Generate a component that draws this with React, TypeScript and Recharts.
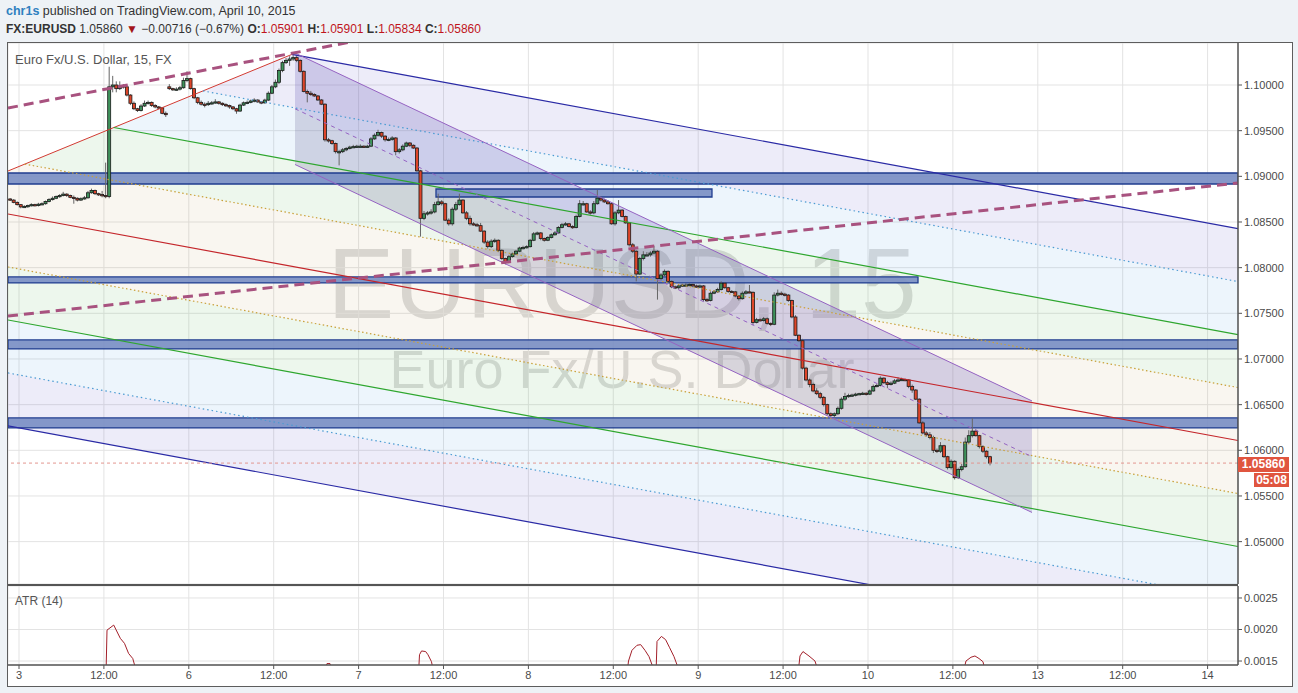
import React from 'react';
import {
  ComposedChart,
  Bar,
  Area,
  Line,
  XAxis,
  YAxis,
  CartesianGrid,
  ReferenceLine,
  ReferenceArea,
} from 'recharts';

// ---------- axes ----------
const X_TICKS = [0, 12, 24, 36, 48, 60, 72, 84, 96, 108, 120, 132, 144, 156, 168];
const X_LABELS = ['3', '12:00', '6', '12:00', '7', '12:00', '8', '12:00', '9', '12:00', '10', '12:00', '13', '12:00', '14'];
const X_DOMAIN = [-1.555, 172.3];
const PRICE_TICKS = [1.05, 1.055, 1.06, 1.065, 1.07, 1.075, 1.08, 1.085, 1.09, 1.095, 1.1];
const PRICE_DOMAIN = [1.04536, 1.1046];
const ATR_TICKS = [0.0015, 0.002, 0.0025];
const ATR_DOMAIN = [0.001437, 0.00269];

// ---------- 30-minute candles (values in 1e-5 above 1.00000) ----------
const FIRST_BAR_T = -1.25;
const BAR_HOURS = 0.5;
const OPEN = [
  8752, 8740, 8715, 8690, 8665, 8670, 8680, 8690, 8680, 8695,
  8700, 8725, 8745, 8760, 8780, 8790, 8805, 8790, 8770, 8760,
  8740, 8755, 8765, 8820, 8845, 8810, 8800, 8790, 8780, 9980,
  10000, 9960, 9990, 9980, 9890, 9800, 9740, 9720, 9770, 9800,
  9810, 9775, 9760, 9750, 9690, 9980, 9960, 9950, 9955, 9970,
  10050, 10070, 9960, 9860, 9810, 9790, 9785, 9800, 9805, 9815,
  9800, 9785, 9775, 9760, 9740, 9715, 9780, 9805, 9810, 9825,
  9835, 9815, 9805, 9835, 9910, 9980, 10030, 10160, 10245, 10270,
  10285, 10300, 10270, 10150, 9930, 9910, 9895, 9880, 9836, 9790,
  9400, 9390, 9360, 9270, 9270, 9290, 9305, 9320, 9325, 9330,
  9330, 9325, 9330, 9410, 9450, 9480, 9440, 9400, 9405, 9420,
  9270, 9290, 9330, 9365, 9340, 9310, 9060, 8540, 8590, 8600,
  8610, 8690, 8720, 8700, 8520, 8480, 8640, 8690, 8740, 8600,
  8540, 8480, 8470, 8460, 8400, 8280, 8230, 8290, 8300, 8190,
  8100, 8060, 8120, 8150, 8180, 8215, 8220, 8230, 8300, 8370,
  8380, 8320, 8300, 8330, 8360, 8380, 8440, 8470, 8480, 8450,
  8440, 8560, 8700, 8700, 8610, 8600, 8700, 8760, 8740, 8720,
  8700, 8480, 8600, 8630, 8560, 8490, 8250, 8180, 7930, 8100,
  8140, 8140, 8160, 8180, 7880, 7920, 7960, 7850, 7790, 7780,
  7800, 7810, 7810, 7815, 7800, 7790, 7800, 7650, 7640, 7720,
  7735, 7760, 7830, 7780, 7740, 7735, 7690, 7660, 7720, 7735,
  7730, 7400, 7430, 7420, 7440, 7390, 7380, 7700, 7720, 7710,
  7700, 7640, 7460, 7260, 7200, 6900, 6770, 6720, 6650, 6620,
  6580, 6500, 6400, 6380, 6400, 6460, 6560, 6590, 6600, 6605,
  6615, 6620, 6625, 6615, 6650, 6700, 6710, 6790, 6740, 6720,
  6735, 6760, 6770, 6775, 6770, 6700, 6660, 6560, 6300, 6190,
  6170, 6140, 6000, 5990, 6050, 5930, 5810, 5880, 5700, 5790,
  5820, 6090, 6160, 6210, 6160, 6040, 5990, 5930,
];
const HIGH = [
  8762, 8750, 8725, 8695, 8685, 8690, 8705, 8700, 8710, 8715,
  8735, 8760, 8780, 8790, 8805, 8830, 8815, 8800, 8790, 8770,
  8770, 8785, 8840, 8865, 8855, 8820, 8840, 9150, 10200, 10100,
  10040, 10040, 10010, 9990, 9900, 9820, 9750, 9790, 9830, 9830,
  9820, 9790, 9770, 9760, 9710, 10010, 9970, 9975, 9990, 10080,
  10150, 10080, 9970, 9870, 9830, 9810, 9825, 9825, 9845, 9825,
  9810, 9800, 9785, 9770, 9750, 9795, 9820, 9830, 9840, 9855,
  9845, 9825, 9850, 9930, 10000, 10060, 10180, 10265, 10295, 10315,
  10350, 10330, 10280, 10160, 9950, 9935, 9910, 9890, 9846, 9800,
  9420, 9400, 9370, 9290, 9310, 9320, 9335, 9345, 9345, 9350,
  9340, 9345, 9430, 9470, 9510, 9490, 9450, 9425, 9440, 9430,
  9310, 9350, 9380, 9375, 9350, 9320, 9070, 8620, 8620, 8640,
  8720, 8810, 8740, 8710, 8540, 8660, 8720, 8810, 8750, 8620,
  8570, 8500, 8490, 8490, 8410, 8300, 8310, 8320, 8310, 8200,
  8110, 8140, 8165, 8195, 8230, 8240, 8245, 8315, 8390, 8395,
  8390, 8330, 8345, 8375, 8400, 8455, 8490, 8500, 8490, 8465,
  8580, 8740, 8730, 8710, 8630, 8730, 8850, 8780, 8755, 8740,
  8710, 8620, 8740, 8640, 8570, 8500, 8270, 8190, 8120, 8180,
  8170, 8180, 8240, 8190, 7940, 7980, 7970, 7860, 7805, 7820,
  7825, 7830, 7835, 7825, 7815, 7815, 7810, 7670, 7740, 7755,
  7780, 7850, 7840, 7790, 7755, 7745, 7700, 7740, 7755, 7810,
  7740, 7450, 7450, 7460, 7455, 7400, 7730, 7760, 7740, 7725,
  7710, 7650, 7480, 7270, 7220, 6915, 6785, 6740, 6680, 6640,
  6595, 6510, 6415, 6415, 6480, 6580, 6630, 6620, 6620, 6630,
  6630, 6640, 6635, 6665, 6720, 6730, 6810, 6800, 6760, 6755,
  6780, 6800, 6795, 6785, 6780, 6720, 6670, 6570, 6320, 6210,
  6200, 6160, 6020, 6090, 6060, 5940, 5900, 5890, 5810, 5850,
  6140, 6220, 6350, 6230, 6170, 6055, 6000, 5940,
];
const LOW = [
  8730, 8705, 8680, 8650, 8655, 8655, 8670, 8670, 8670, 8685,
  8690, 8715, 8735, 8750, 8765, 8780, 8775, 8760, 8700, 8725,
  8730, 8745, 8755, 8810, 8795, 8785, 8770, 8760, 8760, 9920,
  9920, 9945, 9960, 9875, 9780, 9725, 9705, 9710, 9760, 9785,
  9760, 9745, 9735, 9680, 9650, 9945, 9935, 9940, 9940, 9960,
  10030, 9950, 9845, 9790, 9775, 9755, 9770, 9785, 9795, 9785,
  9770, 9760, 9740, 9725, 9685, 9705, 9770, 9790, 9800, 9810,
  9805, 9790, 9795, 9825, 9900, 9965, 10010, 10140, 10230, 10210,
  10265, 10250, 10135, 9920, 9810, 9880, 9870, 9826, 9780, 9380,
  9370, 9345, 9250, 9120, 9255, 9275, 9295, 9310, 9310, 9320,
  9315, 9315, 9320, 9400, 9435, 9420, 9380, 9385, 9390, 9230,
  9250, 9275, 9320, 9320, 9300, 9050, 8340, 8520, 8570, 8580,
  8595, 8680, 8680, 8510, 8460, 8460, 8620, 8680, 8590, 8520,
  8460, 8460, 8450, 8390, 8260, 8210, 8215, 8270, 8170, 8085,
  8035, 8050, 8110, 8140, 8170, 8200, 8210, 8220, 8290, 8355,
  8300, 8285, 8290, 8320, 8350, 8370, 8430, 8460, 8440, 8425,
  8430, 8550, 8680, 8600, 8580, 8585, 8690, 8725, 8710, 8690,
  8470, 8460, 8585, 8550, 8480, 8230, 8160, 7850, 7920, 8080,
  8125, 8120, 8145, 7650, 7860, 7900, 7835, 7775, 7765, 7760,
  7790, 7800, 7800, 7785, 7780, 7775, 7630, 7625, 7630, 7710,
  7725, 7750, 7770, 7725, 7725, 7675, 7640, 7650, 7705, 7720,
  7370, 7390, 7410, 7410, 7375, 7360, 7370, 7685, 7695, 7685,
  7625, 7445, 7250, 7185, 6885, 6755, 6690, 6635, 6605, 6560,
  6480, 6385, 6360, 6365, 6385, 6445, 6540, 6575, 6585, 6590,
  6605, 6610, 6600, 6605, 6640, 6690, 6700, 6725, 6680, 6710,
  6725, 6750, 6760, 6755, 6680, 6630, 6550, 6290, 6175, 6150,
  6120, 5970, 5970, 5970, 5915, 5790, 5790, 5680, 5685, 5770,
  5810, 6070, 6140, 6150, 6020, 5970, 5910, 5835,
];
const CLOSE = [
  8740, 8715, 8690, 8665, 8670, 8680, 8690, 8680, 8695, 8700,
  8725, 8745, 8760, 8780, 8790, 8805, 8790, 8770, 8760, 8740,
  8755, 8765, 8820, 8845, 8810, 8800, 8790, 8780, 9980, 10000,
  9960, 9990, 9980, 9890, 9800, 9740, 9720, 9770, 9800, 9810,
  9775, 9760, 9750, 9690, 9675, 9960, 9950, 9955, 9970, 10050,
  10070, 9960, 9860, 9810, 9790, 9785, 9800, 9805, 9815, 9800,
  9785, 9775, 9760, 9740, 9715, 9780, 9805, 9810, 9825, 9835,
  9815, 9805, 9835, 9910, 9980, 10030, 10160, 10245, 10270, 10285,
  10300, 10270, 10150, 9930, 9910, 9895, 9880, 9836, 9790, 9400,
  9390, 9360, 9270, 9270, 9290, 9305, 9320, 9325, 9330, 9330,
  9325, 9330, 9410, 9450, 9480, 9440, 9400, 9405, 9420, 9270,
  9290, 9330, 9365, 9340, 9310, 9060, 8540, 8590, 8600, 8610,
  8690, 8720, 8700, 8520, 8480, 8640, 8690, 8740, 8600, 8540,
  8480, 8470, 8460, 8400, 8280, 8230, 8290, 8300, 8190, 8100,
  8060, 8120, 8150, 8180, 8215, 8220, 8230, 8300, 8370, 8380,
  8320, 8300, 8330, 8360, 8380, 8440, 8470, 8480, 8450, 8440,
  8560, 8700, 8700, 8610, 8600, 8700, 8760, 8740, 8720, 8700,
  8480, 8600, 8630, 8560, 8490, 8250, 8180, 7930, 8100, 8140,
  8140, 8160, 8180, 7880, 7920, 7960, 7850, 7790, 7780, 7800,
  7810, 7810, 7815, 7800, 7790, 7800, 7650, 7640, 7720, 7735,
  7760, 7830, 7780, 7740, 7735, 7690, 7660, 7720, 7735, 7730,
  7400, 7430, 7420, 7440, 7390, 7380, 7700, 7720, 7710, 7700,
  7640, 7460, 7260, 7200, 6900, 6770, 6720, 6650, 6620, 6580,
  6500, 6400, 6380, 6400, 6460, 6560, 6590, 6600, 6605, 6615,
  6620, 6625, 6615, 6650, 6700, 6710, 6790, 6740, 6720, 6735,
  6760, 6770, 6775, 6770, 6700, 6660, 6560, 6300, 6190, 6170,
  6140, 6000, 5990, 6050, 5930, 5810, 5880, 5700, 5790, 5820,
  6090, 6160, 6210, 6160, 6040, 5990, 5930, 5860,
];
const LAST_PRICE = 1.0586;

// ---------- ATR(14) visible key points ----------
const ATR_T = [-1.5, 11.45, 12.3, 12.44, 13.39, 14.32, 14.91, 15.49, 16.08, 16.68, 43.25, 43.53, 43.96, 44.24, 56.47, 56.61, 56.9, 57.48, 57.81, 58.3, 58.66, 85.94, 86.15, 86.64, 87.35, 87.87, 88.48, 89.05, 89.61, 90.04, 90.18, 90.8, 91.39, 91.97, 92.58, 93.14, 93.43, 110.11, 110.39, 110.81, 111.66, 112.51, 113.07, 133.43, 133.85, 134.56, 135.12, 135.69, 136.25, 136.68, 137.25];
const ATR_V = [0.0012, 0.0012, 0.0013, 0.00199, 0.00207, 0.00186, 0.00178, 0.00162, 0.00154, 0.0013, 0.0013, 0.00146, 0.00146, 0.0013, 0.0013, 0.0016, 0.00166, 0.00165, 0.0016, 0.00149, 0.0013, 0.0013, 0.0015, 0.00167, 0.00175, 0.00176, 0.00167, 0.00157, 0.0014, 0.0013, 0.00181, 0.00189, 0.00184, 0.00171, 0.00157, 0.0014, 0.0013, 0.0013, 0.00158, 0.00165, 0.00158, 0.0015, 0.0013, 0.0013, 0.0015, 0.00156, 0.00158, 0.00154, 0.00149, 0.0013, 0.0013];

// ---------- drawings (time in hours, price) ----------
// pitchfork bands: [t, lower, upper]
const BAND_LAV_UP = [[26.007, 1.099351, 1.099351], [38.59, 1.097556, 1.103359], [172.3, 1.078478, 1.084281]];
const BAND_BLUE_UP = [[13.4, 1.095348, 1.095348], [26.007, 1.093549, 1.099351], [172.3, 1.072676, 1.078478]];
const BAND_GREEN_UP = [[0.82, 1.091341, 1.091341], [13.4, 1.089546, 1.095348], [172.3, 1.066874, 1.072676]];
const BAND_BEIGE_UP = [[-1.555, 1.085877, 1.090585], [0.82, 1.085538, 1.091341], [172.3, 1.061071, 1.066874]];
const BAND_BEIGE_LO = [[-1.555, 1.080075, 1.085877], [172.3, 1.055269, 1.061071]];
const BAND_GREEN_LO = [[-1.555, 1.074272, 1.080075], [172.3, 1.049466, 1.055269]];
const BAND_BLUE_LO = [[-1.555, 1.06847, 1.074272], [172.3, 1.043664, 1.049466]];
const BAND_LAV_LO = [[-1.555, 1.062667, 1.06847], [172.3, 1.037861, 1.043664]];

// pitchfork lines: [t1, p1, t2, p2]
const PF_BLUE_UP = [38.59, 1.103359, 172.3, 1.084281];
const PF_LTBLUE_UP = [26.007, 1.099351, 172.3, 1.078478];
const PF_GREEN_UP = [13.4, 1.095348, 172.3, 1.072676];
const PF_YEL_UP = [0.82, 1.091341, 172.3, 1.066874];
const PF_MEDIAN = [-1.555, 1.085877, 172.3, 1.061071];
const PF_YEL_LO = [-1.555, 1.080075, 172.3, 1.055269];
const PF_GREEN_LO = [-1.555, 1.074272, 172.3, 1.049466];
const PF_LTBLUE_LO = [-1.555, 1.06847, 172.3, 1.043664];
const PF_BLUE_LO = [-1.555, 1.062667, 172.3, 1.037861];
const PF_HANDLE = [-1.555, 1.090585, 38.59, 1.103359];

// regression channel
const CH_UPPER = [39.01, 1.103503, 143.18, 1.065404];
const CH_MID = [39.01, 1.0974, 143.18, 1.0593];
const CH_LOWER = [39.01, 1.091296, 143.18, 1.053197];

// trend lines (dashed)
const TREND_UP = [-1.555, 1.097482, 50, 1.10518];
const TREND_LO = [-1.555, 1.07471, 172.3, 1.089271];

// support / resistance zones: [t1, t2, pLow, pHigh]
const ZONES = [
  [-1.555, 172.3, 1.089161, 1.090366],
  [58.94, 97.95, 1.087738, 1.088614],
  [-1.555, 127.07, 1.078323, 1.07898],
  [-1.555, 172.3, 1.071097, 1.072083],
  [-1.555, 172.3, 1.062449, 1.063543],
];

// ---------- derived tables ----------
const candles = CLOSE.map((c, i) => {
  const o = 1 + OPEN[i] / 1e5;
  const h = 1 + HIGH[i] / 1e5;
  const l = 1 + LOW[i] / 1e5;
  const cl = 1 + c / 1e5;
  return { t: FIRST_BAR_T + i * BAR_HOURS, o, h, l, c: cl, range: [l, h] };
});
const atrData = ATR_T.map((t, i) => ({ t, v: ATR_V[i] }));
const toBand = (pts: number[][]) => pts.map(([t, lo, hi]) => ({ t, band: [lo, hi] }));
const seg = (s: number[]) => [
  { x: s[0], y: s[1] },
  { x: s[2], y: s[3] },
];

const FONT = '"Liberation Sans", Arial, sans-serif';
const AXIS_TEXT = { fontSize: 11, fill: '#4a4a4a', fontFamily: FONT };

function renderCandle(props: any) {
  const { x, y, width, height, payload } = props;
  if (!payload || x == null) return <g />;
  const { o, h, l, c } = payload;
  const cx = x + width / 2;
  const top = Math.min(y, y + height);
  const hgt = Math.abs(height);
  const k = h > l ? hgt / (h - l) : 0;
  const yO = top + (h - o) * k;
  const yC = top + (h - c) * k;
  const bodyTop = Math.min(yO, yC);
  const bodyH = Math.max(1.2, Math.abs(yO - yC));
  const up = c >= o;
  return (
    <g>
      <line x1={cx} x2={cx} y1={top} y2={top + hgt} stroke="#666" strokeWidth={1} />
      <rect
        x={cx - 1.5}
        y={bodyTop}
        width={3}
        height={bodyH}
        fill={up ? '#3f925b' : '#de4529'}
        stroke="#1a1a1a"
        strokeWidth={0.8}
      />
    </g>
  );
}

const bandArea = (pts: number[][], fill: string, opacity: number, key: string) => (
  <Area
    key={key}
    data={toBand(pts)}
    dataKey="band"
    type="linear"
    stroke="none"
    fill={fill}
    fillOpacity={opacity}
    isAnimationActive={false}
    dot={false}
    activeDot={false}
  />
);

const line = (s: number[], stroke: string, width: number, dash: string | undefined, key: string) => (
  <ReferenceLine
    key={key}
    segment={seg(s)}
    stroke={stroke}
    strokeWidth={width}
    strokeDasharray={dash}
    ifOverflow="hidden"
  />
);

const RED = { color: '#c0151c' };

export default function App() {
  return (
    <div
      style={{
        position: 'absolute',
        left: 0,
        top: 0,
        width: 1298,
        height: 693,
        background: '#eef2f6',
        fontFamily: FONT,
        overflow: 'hidden',
      }}
    >
      {/* header */}
      <div style={{ position: 'absolute', left: 6, top: 4, fontSize: 12.5, color: '#333', whiteSpace: 'nowrap' }}>
        <span style={{ color: '#2f80c0', fontWeight: 600 }}>chr1s</span> published on TradingView.com, April 10, 2015
      </div>
      <div style={{ position: 'absolute', left: 6, top: 22, fontSize: 12, color: '#333', whiteSpace: 'nowrap' }}>
        <b>FX:EURUSD</b> 1.05860 <span style={{ color: '#a3141b' }}>▼</span> −0.00716 (−0.67%){' '}
        <b>O:</b><span style={RED}>1.05901</span> <b>H:</b><span style={RED}>1.05901</span> <b>L:</b>
        <span style={RED}>1.05834</span> <b>C:</b><span style={RED}>1.05860</span>
      </div>

      {/* frame */}
      <div
        style={{
          position: 'absolute',
          left: 7,
          top: 42,
          width: 1286,
          height: 645,
          border: '1px solid #5d5d5d',
          boxSizing: 'border-box',
          background: '#ffffff',
        }}
      />

      {/* watermark (behind translucent drawings) */}
      <svg style={{ position: 'absolute', left: 0, top: 0 }} width={1298} height={693}>
        <text x={622} y={318} textAnchor="middle" fontSize={100} fontFamily={FONT} fill="#dcdcdc">
          EURUSD, 15
        </text>
        <text x={622} y={388} textAnchor="middle" fontSize={54} fontFamily={FONT} fill="#dcdcdc">
          Euro Fx/U.S. Dollar
        </text>
      </svg>

      {/* main price panel */}
      <div style={{ position: 'absolute', left: 8, top: 43 }}>
        <ComposedChart width={1283} height={541} data={candles} margin={{ top: 0, right: 0, bottom: 0, left: 0 }}>
          <CartesianGrid stroke="#e3e3e3" strokeWidth={1} />
          <XAxis
            type="number"
            dataKey="t"
            domain={X_DOMAIN}
            ticks={X_TICKS}
            allowDataOverflow
            hide
          />
          <YAxis
            orientation="right"
            type="number"
            domain={PRICE_DOMAIN}
            ticks={PRICE_TICKS}
            allowDataOverflow
            width={53}
            interval={0}
            tickFormatter={(v: number) => v.toFixed(5)}
            tick={AXIS_TEXT}
            tickSize={4}
            tickMargin={2}
            axisLine={{ stroke: '#555', strokeWidth: 1.5 }}
            tickLine={{ stroke: '#555' }}
          />

          {bandArea(BAND_LAV_UP, '#5a50c8', 0.11, 'b1')}
          {bandArea(BAND_BLUE_UP, '#3c8cdc', 0.09, 'b2')}
          {bandArea(BAND_GREEN_UP, '#50b450', 0.1, 'b3')}
          {bandArea(BAND_BEIGE_UP, '#b48c3c', 0.08, 'b4')}
          {bandArea(BAND_BEIGE_LO, '#b48c3c', 0.08, 'b5')}
          {bandArea(BAND_GREEN_LO, '#50b450', 0.1, 'b6')}
          {bandArea(BAND_BLUE_LO, '#3c8cdc', 0.09, 'b7')}
          {bandArea(BAND_LAV_LO, '#5a50c8', 0.11, 'b8')}

          {bandArea([[CH_MID[0], CH_MID[1], CH_UPPER[1]], [CH_MID[2], CH_MID[3], CH_UPPER[3]]], '#6a5cb8', 0.25, 'c1')}
          {bandArea([[CH_LOWER[0], CH_LOWER[1], CH_MID[1]], [CH_LOWER[2], CH_LOWER[3], CH_MID[3]]], '#6b6a9a', 0.24, 'c2')}

          {line(PF_HANDLE, '#d23a32', 1, undefined, 'l0')}
          {line(PF_BLUE_UP, '#2a2aa5', 1.2, undefined, 'l1')}
          {line(PF_LTBLUE_UP, '#4b9bd2', 1.2, '1.5 3', 'l2')}
          {line(PF_GREEN_UP, '#2ea62e', 1.2, undefined, 'l3')}
          {line(PF_YEL_UP, '#c9a13a', 1.2, '1.5 2.5', 'l4')}
          {line(PF_MEDIAN, '#c4262b', 1.2, undefined, 'l5')}
          {line(PF_YEL_LO, '#c9a13a', 1.2, '1.5 2.5', 'l6')}
          {line(PF_GREEN_LO, '#2ea62e', 1.2, undefined, 'l7')}
          {line(PF_LTBLUE_LO, '#4b9bd2', 1.2, '1.5 3', 'l8')}
          {line(PF_BLUE_LO, '#2a2aa5', 1.2, undefined, 'l9')}
          {line(CH_UPPER, '#9563c2', 1, undefined, 'r1')}
          {line(CH_MID, '#9563c2', 1, '4 4', 'r2')}
          {line(CH_LOWER, '#9563c2', 1, undefined, 'r3')}
          {line(TREND_UP, '#a8527f', 3, '10 6', 't1')}
          {line(TREND_LO, '#a8527f', 3, '10 6', 't2')}

          {ZONES.map((z, i) => (
            <ReferenceArea
              key={'z' + i}
              x1={z[0]}
              x2={z[1]}
              y1={z[2]}
              y2={z[3]}
              fill="#7b8fc4"
              fillOpacity={0.92}
              stroke="#1f3d8f"
              strokeWidth={1.3}
              ifOverflow="hidden"
            />
          ))}

          <ReferenceLine y={LAST_PRICE} stroke="#e3968f" strokeDasharray="3 3" strokeWidth={1} />

          <Bar dataKey="range" barSize={3} shape={renderCandle} isAnimationActive={false} />
        </ComposedChart>
      </div>

      {/* panel separator */}
      <div style={{ position: 'absolute', left: 8, top: 584, width: 1230, height: 2, background: '#555' }} />

      {/* ATR panel */}
      <div style={{ position: 'absolute', left: 8, top: 586 }}>
        <ComposedChart width={1283} height={100} data={atrData} margin={{ top: 0, right: 0, bottom: 0, left: 0 }}>
          <CartesianGrid stroke="#e3e3e3" strokeWidth={1} />
          <XAxis
            type="number"
            dataKey="t"
            domain={X_DOMAIN}
            ticks={X_TICKS}
            allowDataOverflow
            interval={0}
            height={21}
            tickFormatter={(v: number) => X_LABELS[X_TICKS.indexOf(v)]}
            tick={AXIS_TEXT}
            tickSize={4}
            tickMargin={2}
            axisLine={{ stroke: '#555', strokeWidth: 1.5 }}
            tickLine={{ stroke: '#555' }}
          />
          <YAxis
            orientation="right"
            type="number"
            domain={ATR_DOMAIN}
            ticks={ATR_TICKS}
            allowDataOverflow
            width={53}
            interval={0}
            tickFormatter={(v: number) => v.toFixed(4)}
            tick={AXIS_TEXT}
            tickSize={4}
            tickMargin={2}
            axisLine={{ stroke: '#555', strokeWidth: 1.5 }}
            tickLine={{ stroke: '#555' }}
          />
          <Line
            dataKey="v"
            type="linear"
            stroke="#a3202a"
            strokeWidth={1}
            dot={false}
            activeDot={false}
            isAnimationActive={false}
          />
        </ComposedChart>
      </div>

      {/* in-chart labels */}
      <div style={{ position: 'absolute', left: 15, top: 52, fontSize: 13, color: '#555', whiteSpace: 'nowrap' }}>
        Euro Fx/U.S. Dollar, 15, FX
      </div>
      <div style={{ position: 'absolute', left: 15, top: 594, fontSize: 12, color: '#555', whiteSpace: 'nowrap' }}>
        ATR (14)
      </div>

      {/* last price tags */}
      <div
        style={{
          position: 'absolute',
          left: 1238,
          top: 457,
          width: 51,
          height: 15,
          background: '#e0553f',
          color: '#fff',
          fontSize: 12,
          fontWeight: 700,
          lineHeight: '15px',
          textAlign: 'center',
        }}
      >
        1.05860
      </div>
      <div
        style={{
          position: 'absolute',
          left: 1254,
          top: 473,
          width: 35,
          height: 14,
          background: '#e0553f',
          color: '#fff',
          fontSize: 12,
          fontWeight: 700,
          lineHeight: '14px',
          textAlign: 'center',
        }}
      >
        05:08
      </div>
    </div>
  );
}
